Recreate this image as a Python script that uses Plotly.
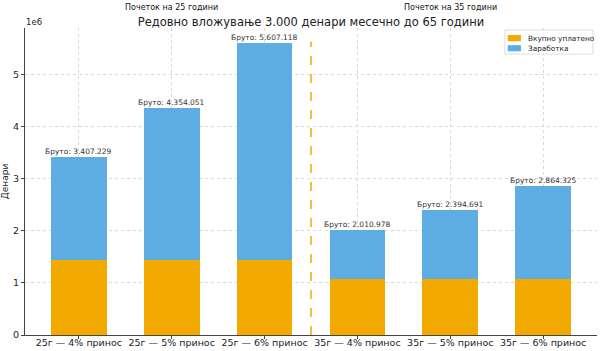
import plotly.graph_objects as go

categories = ["25г — 4% принос", "25г — 5% принос", "25г — 6% принос",
              "35г — 4% принос", "35г — 5% принос", "35г — 6% принос"]
paid = [1440000, 1440000, 1440000, 1080000, 1080000, 1080000]
gross = [3407229, 4354051, 5607118, 2010978, 2394691, 2864325]
earnings = [g - p for g, p in zip(gross, paid)]
gross_labels = ["Бруто: " + f"{g:,}".replace(",", ".") for g in gross]
series_names = ["Вкупно уплатено", "Заработка"]
y_ticks = [0, 1e6, 2e6, 3e6, 4e6, 5e6]
y_tick_text = ["0", "1", "2", "3", "4", "5"]

ORANGE = "#F2A900"
BLUE = "#5DADE2"
COLORS = [ORANGE, BLUE]
FONT = "DejaVu Sans"

x = list(range(len(categories)))
fig = go.Figure()
for name, vals, col in zip(series_names, [paid, earnings], COLORS):
    fig.add_trace(go.Bar(x=x, y=vals, name=name, marker_color=col,
                         marker_line_width=0, width=0.6, showlegend=False))

for xi, g, lab in zip(x, gross, gross_labels):
    fig.add_annotation(x=xi, y=g, text=lab, showarrow=False, yanchor="bottom",
                       yshift=-1, font=dict(size=7.5, color="#333", family=FONT))

ymax = max(gross) * 1.05
fig.add_shape(type="line", x0=2.5, x1=2.5, y0=0, y1=0.955, xref="x", yref="y domain",
              line=dict(color=ORANGE, width=1.5, dash="dash"))

for xi, txt in [(1, "Почеток на 25 години"), (4, "Почеток на 35 години")]:
    fig.add_annotation(x=xi, y=1.068, xref="x", yref="paper", text=txt,
                       showarrow=False, yanchor="middle",
                       font=dict(size=8, color="#111", family=FONT))
fig.add_annotation(x=0, y=1.0, xref="paper", yref="paper", text="1e6", showarrow=False,
                   xanchor="left", yanchor="bottom", yshift=-1, xshift=-1,
                   font=dict(size=8.5, color="#222", family=FONT))

# custom compact legend (upper right)
fig.add_shape(type="rect", xref="paper", yref="paper", x0=0.839, x1=0.993, y0=0.915, y1=0.9935,
              line=dict(color="#dddddd", width=1), fillcolor="rgba(255,255,255,0.85)")
for i, (name, col) in enumerate(zip(series_names, COLORS)):
    yc = 0.967 - i * 0.033
    fig.add_shape(type="rect", xref="paper", yref="paper", x0=0.844, x1=0.867,
                  y0=yc - 0.01, y1=yc + 0.01, line=dict(width=0), fillcolor=col)
    fig.add_annotation(x=0.876, y=yc, xref="paper", yref="paper", text=name,
                       showarrow=False, xanchor="left", yanchor="middle",
                       font=dict(size=7.3, color="#222", family=FONT))

fig.update_layout(
    width=602, height=351,
    margin=dict(l=25, r=5, t=28, b=16),
    barmode="stack",
    plot_bgcolor="white", paper_bgcolor="white",
    font=dict(family=FONT, color="#222"),
    title=dict(text="Редовно вложување 3.000 денари месечно до 65 години",
               x=0.5, xref="paper", y=1.0, yref="paper", yanchor="bottom",
               pad=dict(b=2), font=dict(size=11.5, family=FONT, color="#222")),
    showlegend=False,
)
fig.update_xaxes(range=[-0.58, 5.58], tickmode="array", tickvals=x, ticktext=categories,
                 showgrid=True, gridcolor="#d8d8d8", griddash="dot", gridwidth=0.8,
                 showline=True, linecolor="#444", linewidth=1, ticks="outside", ticklen=3,
                 tickcolor="#444", tickfont=dict(size=9.5, family=FONT, color="#222"),
                 ticklabelstandoff=-4,
                 zeroline=False, automargin=False)
fig.update_yaxes(range=[0, ymax], tickmode="array", tickvals=y_ticks, ticktext=y_tick_text,
                 showgrid=True, gridcolor="#d8d8d8", griddash="dot", gridwidth=0.8,
                 showline=True, linecolor="#444", linewidth=1, ticks="outside", ticklen=3,
                 tickcolor="#444", tickfont=dict(size=9.5, family=FONT, color="#222"),
                 zeroline=False, automargin=False,
                 title=dict(text="Денари", standoff=4, font=dict(size=9, family=FONT, color="#222")))

fig.write_html("out.html")
